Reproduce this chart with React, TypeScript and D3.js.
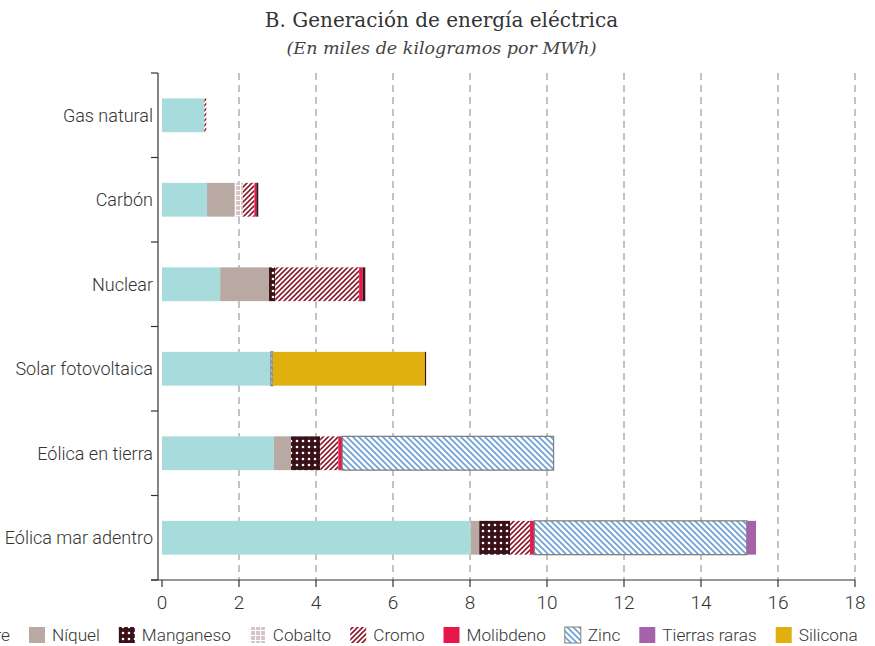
import React, { useEffect, useRef } from "react";
import * as d3 from "d3";

const categories = ["Gas natural", "Carbón", "Nuclear", "Solar fotovoltaica", "Eólica en tierra", "Eólica mar adentro"];
const cobre = [1.1, 1.17, 1.51, 2.83, 2.91, 8.02];
const niquel = [0, 0.72, 1.27, 0, 0.44, 0.22];
const manganeso = [0, 0, 0.16, 0, 0.76, 0.8];
const cobalto = [0, 0.21, 0, 0, 0, 0];
const cromo = [0.05, 0.3, 2.18, 0, 0.47, 0.52];
const molibdeno = [0, 0.05, 0.09, 0, 0.1, 0.11];
const zinc = [0, 0, 0, 0.05, 5.49, 5.52];
const tierrasRaras = [0, 0, 0, 0, 0, 0.24];
const silicona = [0, 0, 0, 3.95, 0, 0];
const otros = [0, 0.05, 0.07, 0.03, 0, 0];
const xTicks = [0, 2, 4, 6, 8, 10, 12, 14, 16, 18];
const legendNames = ["Cobre", "Níquel", "Manganeso", "Cobalto", "Cromo", "Molibdeno", "Zinc", "Tierras raras", "Silicona"];

const series = [
  { name: "Cobre", values: cobre, fill: "#a8dcdc" },
  { name: "Níquel", values: niquel, fill: "#b8aaa2" },
  { name: "Manganeso", values: manganeso, fill: "url(#pManganeso)" },
  { name: "Cobalto", values: cobalto, fill: "url(#pCobalto)" },
  { name: "Cromo", values: cromo, fill: "url(#pCromo)" },
  { name: "Molibdeno", values: molibdeno, fill: "#e8174a" },
  { name: "Zinc", values: zinc, fill: "url(#pZinc)", stroke: "#808080" },
  { name: "Tierras raras", values: tierrasRaras, fill: "#a463a8" },
  { name: "Silicona", values: silicona, fill: "#e0b00e" },
  { name: "Otros", values: otros, fill: "#3a1119" },
];

const FONT = "Roboto, 'Liberation Sans', sans-serif";
const FS = 18;
const LFS = 17.2;

export default function App() {
  const ref = useRef<SVGSVGElement>(null);
  useEffect(() => {
    const svg = d3.select(ref.current);
    svg.selectAll("*").remove();
    const W = 875;
    const left = 162, right = 855, top = 73, bottom = 580;
    const x = d3.scaleLinear().domain([0, 18]).range([left, right]);
    const y = d3.scaleBand().domain(categories).range([top, bottom]).paddingInner(0.6).paddingOuter(0.3);
    const yb = d3.scaleBand().domain(categories).range([top, bottom]);

    const defs = svg.append("defs");
    const pm = defs.append("pattern").attr("id", "pManganeso").attr("patternUnits", "userSpaceOnUse").attr("width", 6).attr("height", 6);
    pm.append("rect").attr("width", 6).attr("height", 6).attr("fill", "#3a1119");
    pm.append("circle").attr("cx", 3).attr("cy", 3).attr("r", 1.3).attr("fill", "#fff");
    const pc = defs.append("pattern").attr("id", "pCobalto").attr("patternUnits", "userSpaceOnUse").attr("width", 5).attr("height", 5);
    pc.append("rect").attr("width", 5).attr("height", 5).attr("fill", "#d6c3c6");
    pc.append("path").attr("d", "M0,0.5H5M0.5,0V5").attr("stroke", "#fff").attr("stroke-width", 1.2);
    const pr = defs.append("pattern").attr("id", "pCromo").attr("patternUnits", "userSpaceOnUse").attr("width", 5).attr("height", 5);
    pr.append("rect").attr("width", 5).attr("height", 5).attr("fill", "#fff");
    pr.append("path").attr("d", "M-1,6L6,-1M-1,1L1,-1M4,6L6,4").attr("stroke", "#8b1c2c").attr("stroke-width", 1.6);
    const pz = defs.append("pattern").attr("id", "pZinc").attr("patternUnits", "userSpaceOnUse").attr("width", 6).attr("height", 6);
    pz.append("rect").attr("width", 6).attr("height", 6).attr("fill", "#fff");
    pz.append("path").attr("d", "M-1,-1L7,7M-1,5L1,7M5,-1L7,1").attr("stroke", "#6b9ed6").attr("stroke-width", 1.6);

    // Title
    svg.append("text").attr("x", W / 2 + 4).attr("y", 27).attr("text-anchor", "middle")
      .attr("font-family", "'DejaVu Serif', serif").attr("font-size", 20).attr("fill", "#333")
      .text("B. Generación de energía eléctrica");
    svg.append("text").attr("x", W / 2 + 4).attr("y", 54).attr("text-anchor", "middle")
      .attr("font-family", "'DejaVu Serif', serif").attr("font-style", "italic").attr("font-size", 17.5).attr("fill", "#444")
      .text("(En miles de kilogramos por MWh)");

    // Grid
    svg.append("g").selectAll("line").data(xTicks.filter((d) => d > 0)).join("line")
      .attr("x1", (d) => x(d)).attr("x2", (d) => x(d)).attr("y1", top).attr("y2", bottom)
      .attr("stroke", "#aaa").attr("stroke-width", 1.4).attr("stroke-dasharray", "7,5");

    // Bars
    const stackKeys = series.map((s) => s.name);
    const rows = categories.map((c, i) => {
      const r: any = { cat: c };
      series.forEach((s) => (r[s.name] = s.values[i]));
      return r;
    });
    const stacked = d3.stack().keys(stackKeys)(rows);
    stacked.forEach((layer, li) => {
      const s = series[li];
      svg.append("g").selectAll("rect").data(layer.filter((d) => d[1] - d[0] > 0)).join("rect")
        .attr("x", (d) => x(d[0])).attr("width", (d) => x(d[1]) - x(d[0]))
        .attr("y", (d: any) => y(d.data.cat)!).attr("height", y.bandwidth())
        .attr("fill", s.fill).attr("stroke", s.stroke || "none").attr("stroke-width", s.stroke ? 1.3 : 0);
    });

    // Y axis
    const ax = svg.append("g").attr("stroke", "#333").attr("stroke-width", 1.2);
    ax.append("line").attr("x1", left - 4).attr("x2", left - 4).attr("y1", top).attr("y2", bottom);
    const bounds = [top, ...categories.map((c) => yb(c)! + yb.bandwidth())];
    ax.selectAll("line.t").data(bounds).join("line").attr("class", "t")
      .attr("x1", left - 11).attr("x2", left - 4).attr("y1", (d) => d).attr("y2", (d) => d);
    svg.append("g").selectAll("text").data(categories).join("text")
      .attr("x", left - 9).attr("y", (d) => yb(d)! + yb.bandwidth() / 2).attr("dy", "0.35em")
      .attr("text-anchor", "end").attr("font-family", FONT).attr("font-weight", 300).attr("font-size", FS).attr("fill", "#333").text((d) => d);

    // X axis
    const bx = svg.append("g").attr("stroke", "#333").attr("stroke-width", 1.2);
    bx.append("line").attr("x1", left - 11).attr("x2", right).attr("y1", bottom).attr("y2", bottom);
    bx.selectAll("line.t").data(xTicks).join("line").attr("class", "t")
      .attr("x1", (d) => x(d)).attr("x2", (d) => x(d)).attr("y1", bottom).attr("y2", bottom + 7);
    svg.append("g").selectAll("text").data(xTicks).join("text")
      .attr("x", (d) => x(d)).attr("y", bottom + 29).attr("text-anchor", "middle")
      .attr("font-family", FONT).attr("font-weight", 300).attr("font-size", 19).attr("fill", "#333").text((d) => String(d));

    // Legend
    const lg = svg.append("g");
    const ly = 635;
    const items = legendNames.map((n) => series.find((s) => s.name === n)!);
    const widths: number[] = items.map((s) => {
      const t = lg.append("text").attr("font-family", FONT).attr("font-weight", 300).attr("font-size", LFS).text(s.name);
      const w = (t.node() as SVGTextElement).getComputedTextLength();
      t.remove();
      return w;
    });
    const sw = 16, gapSwText = 7, gapItem = 19;
    const xs: number[] = [];
    let cx = 29;
    for (let i = 1; i < items.length; i++) {
      xs[i] = cx;
      cx += sw + gapSwText + widths[i] + gapItem;
    }
    xs[0] = xs[1] - gapItem - widths[0] - gapSwText - sw;
    items.forEach((s, i) => {
      lg.append("rect").attr("x", xs[i]).attr("y", ly - 8).attr("width", sw).attr("height", sw)
        .attr("fill", s.fill).attr("stroke", s.stroke || "none").attr("stroke-width", s.stroke ? 1 : 0);
      lg.append("text").attr("x", xs[i] + sw + gapSwText).attr("y", ly).attr("dy", "0.35em")
        .attr("font-family", FONT).attr("font-weight", 300).attr("font-size", LFS).attr("fill", "#333").text(s.name);
    });
  }, []);
  return (
    <svg ref={ref} width={875} height={646} style={{ position: "absolute", left: 0, top: 0, background: "#fff" }} />
  );
}
